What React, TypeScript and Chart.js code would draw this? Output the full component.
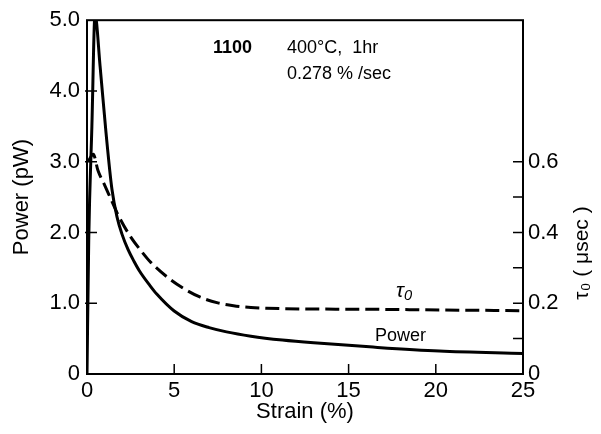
import React, { useEffect, useRef } from "react";
import { Chart, registerables } from "chart.js";

Chart.register(...registerables);

// Strain (%) and Power (pW), left axis
const powerStrain = [0, 0.1, 0.28, 0.46, 0.75, 1.09, 1.43, 1.72, 2.0, 2.35, 2.7, 3.0, 3.61, 4.0, 5.0, 6.0, 7.0, 8.0, 9.4, 11.2, 13.0, 16.4, 20.2, 25];
const powerValues = [0, 1.9, 3.5, 5.08, 4.35, 3.41, 2.61, 2.22, 1.98, 1.76, 1.59, 1.46, 1.25, 1.13, 0.89, 0.74, 0.655, 0.595, 0.535, 0.48, 0.44, 0.38, 0.325, 0.29];

// Strain (%) and tau0 (usec), right axis
const tauStrain = [0.06, 0.36, 0.63, 1.03, 1.43, 1.78, 2.47, 3.15, 3.61, 4.6, 5.5, 6.5, 7.5, 8.4, 9.4, 10.3, 12.2, 16.0, 20.2, 25];
const tauValues = [0.6, 0.621, 0.575, 0.532, 0.488, 0.45, 0.39, 0.345, 0.318, 0.274, 0.243, 0.217, 0.201, 0.193, 0.188, 0.186, 0.184, 0.183, 0.181, 0.179];

const xTicks = [0, 5, 10, 15, 20, 25];
const leftTicks = [0, 1, 2, 3, 4, 5];
const rightLabelled = [0, 0.2, 0.4, 0.6];
const rightTickMarks = [0.1, 0.2, 0.3, 0.4, 0.5, 0.6];

const FONT = "'Liberation Sans', Arial, 'DejaVu Sans', sans-serif";

const decorPlugin = {
  id: "decor",
  afterDraw(chart: any) {
    const { ctx, chartArea, scales } = chart;
    const { left, right, top, bottom } = chartArea;
    ctx.save();
    ctx.strokeStyle = "#000";
    ctx.lineWidth = 2;
    ctx.strokeRect(left, top, right - left, bottom - top);
    ctx.lineWidth = 1.5;
    const L = 10;
    ctx.beginPath();
    for (const v of xTicks) {
      if (v === 0 || v === 25) continue;
      const px = scales.x.getPixelForValue(v);
      ctx.moveTo(px, bottom);
      ctx.lineTo(px, bottom - L);
    }
    for (const v of leftTicks) {
      if (v === 0 || v === 5) continue;
      const py = scales.y.getPixelForValue(v);
      ctx.moveTo(left - 2, py);
      ctx.lineTo(left + L, py);
    }
    for (const v of rightTickMarks) {
      const py = scales.y2.getPixelForValue(v);
      ctx.moveTo(right, py);
      ctx.lineTo(right - L, py);
    }
    ctx.stroke();

    ctx.fillStyle = "#000";
    ctx.textBaseline = "middle";
    ctx.textAlign = "left";
    ctx.font = `bold 18px ${FONT}`;
    ctx.fillText("1100", 213, 48);
    ctx.font = `18px ${FONT}`;
    ctx.fillText("400°C,  1hr", 287, 48);
    ctx.fillText("0.278 % /sec", 287, 74);
    ctx.fillText("Power", 375, 336);
    ctx.font = `italic 21px ${FONT}`;
    ctx.fillText("τ₀", 396, 291);

    ctx.translate(582, 253);
    ctx.rotate(-Math.PI / 2);
    ctx.textAlign = "center";
    ctx.font = `21px ${FONT}`;
    ctx.fillText("τ₀ ( μsec )", 0, 0);
    ctx.restore();
  },
};

export default function App() {
  const ref = useRef<HTMLCanvasElement | null>(null);
  useEffect(() => {
    if (!ref.current) return;
    const chart = new Chart(ref.current, {
      type: "line",
      data: {
        datasets: [
          {
            label: "Power",
            data: powerStrain.map((s, i) => ({ x: s, y: powerValues[i] })),
            yAxisID: "y",
            borderColor: "#000",
            borderWidth: 3,
            pointRadius: 0,
            fill: false,
            cubicInterpolationMode: "monotone",
          },
          {
            label: "tau0",
            data: tauStrain.map((s, i) => ({ x: s, y: tauValues[i] })),
            yAxisID: "y2",
            borderColor: "#000",
            borderWidth: 3,
            borderDash: [14, 6],
            pointRadius: 0,
            fill: false,
            cubicInterpolationMode: "monotone",
          },
        ],
      },
      options: {
        responsive: false,
        animation: false,
        layout: { padding: { top: 15, left: 0, right: 0, bottom: 0 } },
        plugins: { legend: { display: false }, tooltip: { enabled: false } },
        scales: {
          x: {
            type: "linear",
            min: 0,
            max: 25,
            afterFit: (s: any) => { s.height = 60; },
            afterBuildTicks: (s: any) => { s.ticks = xTicks.map((v) => ({ value: v })); },
            ticks: { color: "#000", padding: 4, font: { family: FONT, size: 22 }, maxRotation: 0, callback: (v: any) => String(v) },
            grid: { display: false, drawTicks: false },
            border: { display: false },
            title: { display: true, text: "Strain (%)", color: "#000", font: { family: FONT, size: 22 }, padding: { top: 0, bottom: 9 } },
          },
          y: {
            type: "linear",
            position: "left",
            min: 0,
            max: 5,
            afterFit: (s: any) => { s.width = 87; },
            afterBuildTicks: (s: any) => { s.ticks = leftTicks.map((v) => ({ value: v })); },
            ticks: { color: "#000", padding: 7, font: { family: FONT, size: 22 }, callback: (v: any) => (v === 0 ? "0" : Number(v).toFixed(1)) },
            grid: { display: false, drawTicks: false },
            border: { display: false },
            title: { display: true, text: "Power (pW)", color: "#000", font: { family: FONT, size: 22 }, padding: { top: 9, bottom: 0 } },
          },
          y2: {
            type: "linear",
            position: "right",
            min: 0,
            max: 1,
            afterFit: (s: any) => { s.width = 78; },
            afterBuildTicks: (s: any) => { s.ticks = rightLabelled.map((v) => ({ value: v })); },
            ticks: { color: "#000", padding: 5, font: { family: FONT, size: 22 }, callback: (v: any) => (v === 0 ? "0" : Number(v).toFixed(1)) },
            grid: { display: false, drawTicks: false },
            border: { display: false },
          },
        },
      } as any,
      plugins: [decorPlugin],
    });
    return () => chart.destroy();
  }, []);
  return (
    <div style={{ position: "fixed", left: 0, top: 0, width: 601, height: 434, background: "#fff" }}>
      <canvas ref={ref} width={601} height={434} style={{ display: "block" }} />
    </div>
  );
}
